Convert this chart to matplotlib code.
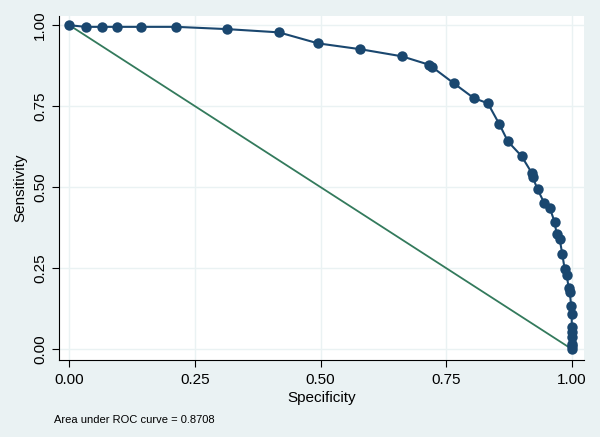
import numpy as np
import matplotlib
matplotlib.use("Agg")
from matplotlib import pyplot as plt

# ROC points (specificity, sensitivity)
specificity = [0.000, 0.032, 0.064, 0.095, 0.143, 0.213, 0.314, 0.417, 0.495, 0.579,
               0.662, 0.716, 0.722, 0.765, 0.805, 0.833, 0.856, 0.873, 0.900, 0.920,
               0.922, 0.932, 0.945, 0.956, 0.966, 0.970, 0.976, 0.981, 0.986, 0.990,
               0.994, 0.996, 0.999, 1.000, 1.000, 1.000, 1.000, 1.000, 1.000, 1.000]
sensitivity = [1.000, 0.995, 0.995, 0.995, 0.995, 0.995, 0.988, 0.978, 0.944, 0.926,
               0.904, 0.878, 0.871, 0.821, 0.775, 0.759, 0.694, 0.641, 0.596, 0.545,
               0.532, 0.493, 0.452, 0.437, 0.392, 0.354, 0.339, 0.295, 0.246, 0.228,
               0.188, 0.176, 0.133, 0.107, 0.069, 0.053, 0.038, 0.017, 0.008, 0.000]
ref_x = [0.0, 1.0]
ref_y = [1.0, 0.0]
ticks = [0.0, 0.25, 0.5, 0.75, 1.0]
tick_labels = ["0.00", "0.25", "0.50", "0.75", "1.00"]
auc_text = "Area under ROC curve = 0.8708"

bg = "#eaf2f3"
navy = "#1a476f"
green = "#337a5c"

plt.rcParams['font.family'] = ['Liberation Sans', 'DejaVu Sans']

fig = plt.figure(figsize=(6, 4.37), dpi=100, facecolor=bg)
ax = fig.add_axes((0.099, 0.176, 0.874, 0.787))
ax.set_facecolor("white")

ax.plot(ref_x, ref_y, color=green, lw=1.3, zorder=2)
ax.plot(specificity, sensitivity, color=navy, lw=1.5, marker="o",
        markersize=7.5, markeredgewidth=0, zorder=3)

ax.set_xlim(-0.020, 1.024)
ax.set_ylim(-0.034, 1.028)
ax.set_xticks(ticks, tick_labels)
ax.set_yticks(ticks, tick_labels)
for lab in ax.get_yticklabels():
    lab.set_rotation(90)
    lab.set_va("center")
ax.tick_params(labelsize=11, length=5, width=0.8, color="black", pad=4)
ax.grid(True, color=bg, lw=1.0, zorder=0)
ax.set_axisbelow(True)

for side in ("top", "right"):
    ax.spines[side].set_visible(False)
for side in ("left", "bottom"):
    ax.spines[side].set_linewidth(0.8)

ax.set_xlabel("Specificity", fontsize=11, labelpad=3)
ax.set_ylabel("Sensitivity", fontsize=11, labelpad=4)

fig.text(54 / 600, 1 - 420 / 437, auc_text, fontsize=8, ha="left", va="center")

fig.savefig("out.png", dpi=100, facecolor=bg)
